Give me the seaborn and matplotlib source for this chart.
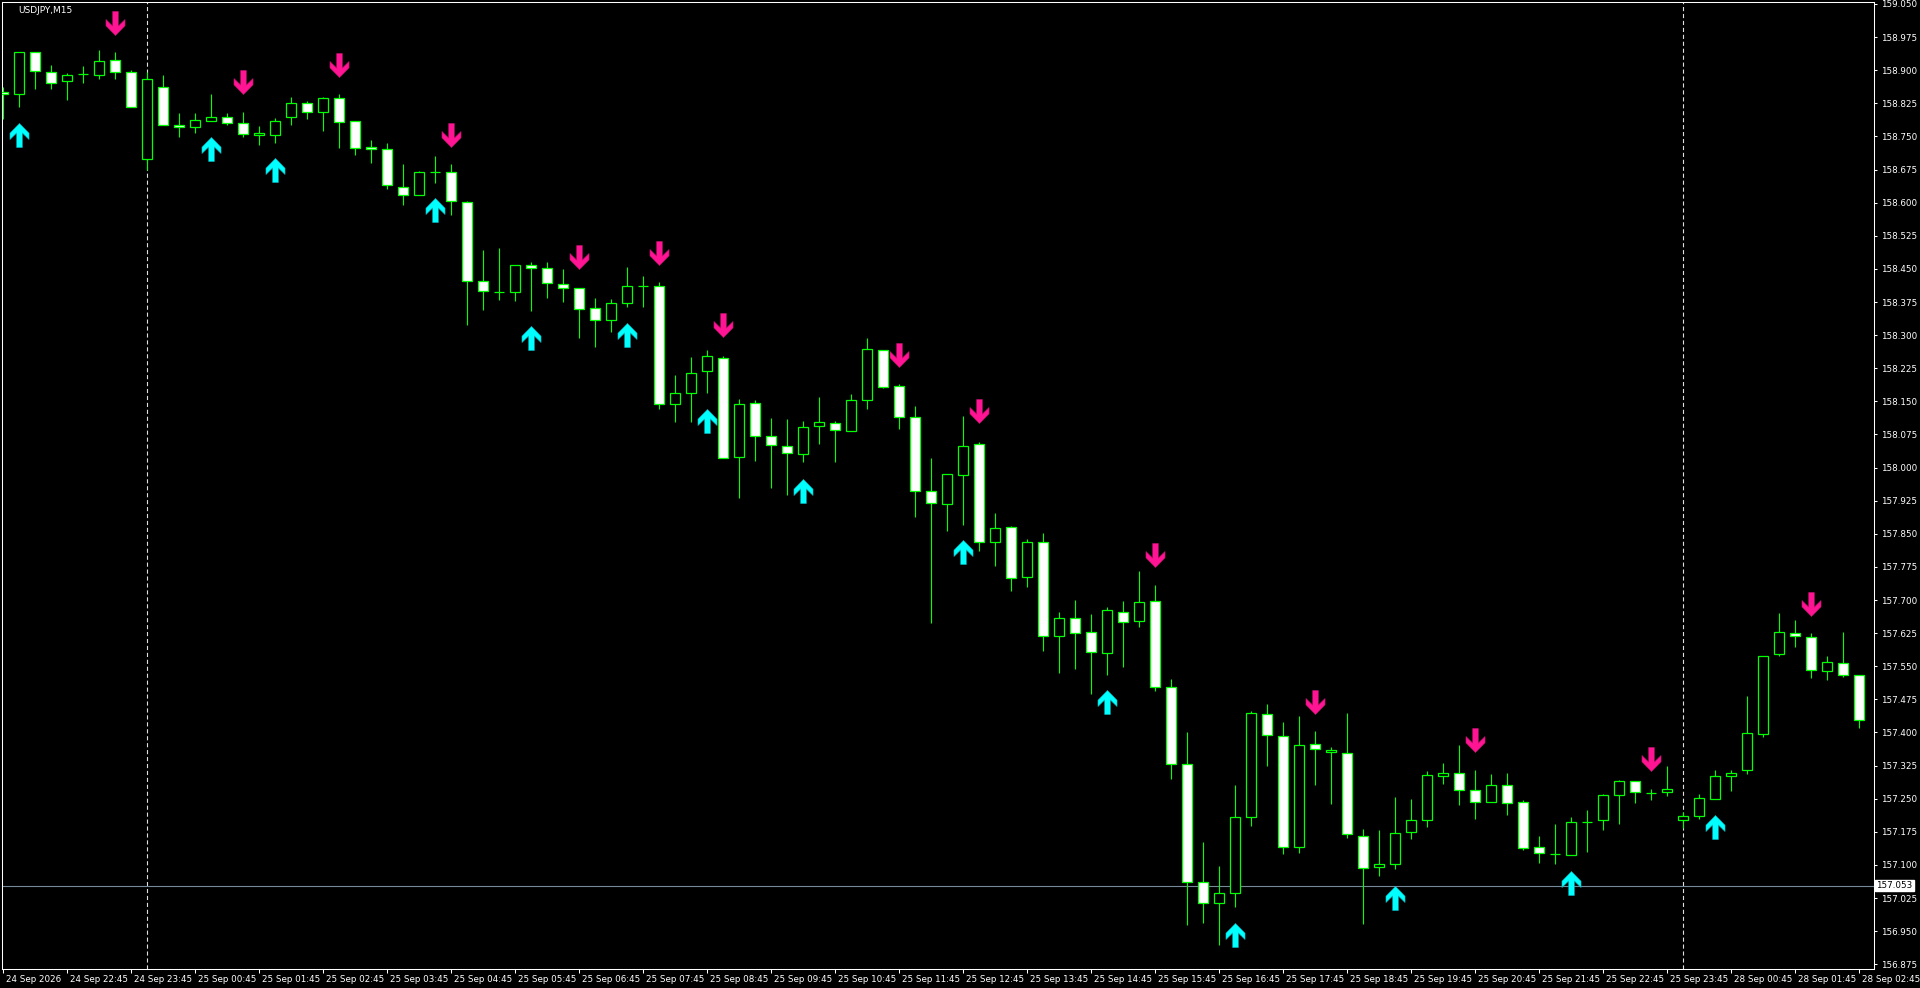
import numpy as np
import seaborn as sns
import matplotlib.pyplot as plt
from matplotlib.path import Path
from matplotlib.markers import MarkerStyle
from matplotlib.transforms import ScaledTranslation, blended_transform_factory

# USDJPY M15 candles (bar 0 = 24 Sep 21:45)
opens = [158.851, 158.846, 158.941, 158.895, 158.875, 158.891, 158.890, 158.922, 158.895, 158.698,
         158.861, 158.775, 158.771, 158.784, 158.793, 158.780, 158.753, 158.753, 158.793, 158.825,
         158.805, 158.836, 158.784, 158.725, 158.721, 158.636, 158.617, 158.669, 158.669, 158.601,
         158.422, 158.397, 158.397, 158.458, 158.451, 158.415, 158.406, 158.361, 158.334, 158.372,
         158.412, 158.412, 158.143, 158.168, 158.218, 158.248, 158.023, 158.146, 158.071, 158.048,
         158.030, 158.094, 158.100, 158.082, 158.152, 158.266, 158.184, 158.114, 157.946, 157.917,
         157.983, 158.053, 157.831, 157.865, 157.752, 157.831, 157.618, 157.659, 157.627, 157.579,
         157.672, 157.652, 157.697, 157.502, 157.329, 157.061, 157.013, 157.036, 157.208, 157.441,
         157.391, 157.140, 157.373, 157.355, 157.353, 157.165, 157.095, 157.101, 157.174, 157.201,
         157.301, 157.308, 157.269, 157.242, 157.280, 157.242, 157.140, 157.125, 157.122, 157.197,
         157.201, 157.258, 157.289, 157.264, 157.265, 157.201, 157.210, 157.249, 157.301, 157.314,
         157.396, 157.577, 157.625, 157.616, 157.539, 157.557, 157.530]
highs = [158.862, 158.941, 158.941, 158.911, 158.893, 158.910, 158.945, 158.941, 158.900, 158.895,
         158.889, 158.802, 158.802, 158.845, 158.802, 158.805, 158.773, 158.791, 158.839, 158.830,
         158.839, 158.846, 158.784, 158.742, 158.734, 158.688, 158.672, 158.706, 158.688, 158.603,
         158.493, 158.497, 158.458, 158.466, 158.466, 158.449, 158.406, 158.383, 158.381, 158.454,
         158.433, 158.420, 158.209, 158.250, 158.266, 158.252, 158.155, 158.152, 158.112, 158.109,
         158.105, 158.159, 158.105, 158.166, 158.293, 158.266, 158.189, 158.139, 158.021, 157.985,
         158.117, 158.057, 157.896, 157.867, 157.838, 157.851, 157.672, 157.699, 157.668, 157.684,
         157.697, 157.765, 157.734, 157.520, 157.400, 157.152, 157.098, 157.281, 157.449, 157.464,
         157.423, 157.437, 157.403, 157.366, 157.443, 157.181, 157.178, 157.253, 157.249, 157.312,
         157.332, 157.371, 157.314, 157.305, 157.308, 157.246, 157.165, 157.192, 157.208, 157.224,
         157.260, 157.292, 157.289, 157.271, 157.323, 157.219, 157.260, 157.314, 157.314, 157.482,
         157.573, 157.670, 157.654, 157.625, 157.573, 157.627, 157.530]
lows = [158.790, 158.817, 158.857, 158.858, 158.833, 158.870, 158.879, 158.881, 158.816, 158.674,
        158.775, 158.749, 158.757, 158.784, 158.777, 158.748, 158.730, 158.736, 158.777, 158.789,
        158.762, 158.723, 158.709, 158.689, 158.632, 158.595, 158.617, 158.645, 158.573, 158.324,
        158.357, 158.380, 158.378, 158.355, 158.383, 158.376, 158.294, 158.272, 158.308, 158.363,
        158.363, 158.132, 158.104, 158.104, 158.170, 158.021, 157.932, 158.016, 157.954, 157.939,
        158.012, 158.053, 158.012, 158.082, 158.132, 158.180, 158.088, 157.889, 157.649, 157.857,
        157.871, 157.810, 157.778, 157.720, 157.729, 157.584, 157.534, 157.543, 157.487, 157.530,
        157.548, 157.638, 157.495, 157.295, 156.965, 156.969, 156.919, 157.004, 157.189, 157.325,
        157.125, 157.128, 157.282, 157.237, 157.160, 156.967, 157.076, 157.090, 157.159, 157.187,
        157.283, 157.236, 157.203, 157.242, 157.212, 157.133, 157.104, 157.101, 157.122, 157.129,
        157.178, 157.192, 157.240, 157.246, 157.256, 157.183, 157.203, 157.249, 157.267, 157.305,
        157.389, 157.573, 157.593, 157.523, 157.518, 157.525, 157.410]
closes = [158.846, 158.941, 158.898, 158.870, 158.889, 158.891, 158.920, 158.895, 158.816, 158.879,
          158.775, 158.771, 158.787, 158.793, 158.780, 158.755, 158.757, 158.784, 158.825, 158.805,
          158.836, 158.782, 158.723, 158.721, 158.639, 158.617, 158.669, 158.669, 158.603, 158.422,
          158.399, 158.397, 158.458, 158.451, 158.417, 158.406, 158.359, 158.334, 158.372, 158.411,
          158.412, 158.143, 158.170, 158.214, 158.252, 158.021, 158.143, 158.071, 158.050, 158.032,
          158.091, 158.103, 158.084, 158.152, 158.268, 158.182, 158.114, 157.946, 157.919, 157.985,
          158.048, 157.831, 157.862, 157.749, 157.831, 157.618, 157.659, 157.625, 157.582, 157.677,
          157.650, 157.695, 157.502, 157.328, 157.061, 157.013, 157.036, 157.208, 157.443, 157.394,
          157.140, 157.371, 157.362, 157.360, 157.169, 157.092, 157.101, 157.172, 157.201, 157.303,
          157.308, 157.269, 157.242, 157.280, 157.240, 157.138, 157.126, 157.125, 157.197, 157.197,
          157.258, 157.289, 157.265, 157.264, 157.271, 157.210, 157.251, 157.301, 157.308, 157.398,
          157.573, 157.627, 157.618, 157.541, 157.559, 157.530, 157.428]

# indicator arrows: bar index and price of the arrow centre
buy_bars = [1, 13, 17, 27, 33, 39, 44, 50, 60, 69, 77, 87, 98, 107]
buy_price = [158.753, 158.722, 158.674, 158.584, 158.294, 158.301, 158.106, 157.948, 157.809,
             157.468, 156.942, 157.026, 157.058, 157.185]
sell_bars = [7, 15, 21, 28, 36, 41, 45, 56, 61, 72, 82, 92, 103, 113]
sell_price = [159.008, 158.874, 158.912, 158.754, 158.476, 158.487, 158.322, 158.256, 158.127,
              157.801, 157.470, 157.382, 157.339, 157.692]

time_labels = ["24 Sep 2026", "24 Sep 22:45", "24 Sep 23:45",
               "25 Sep 00:45", "25 Sep 01:45", "25 Sep 02:45", "25 Sep 03:45", "25 Sep 04:45",
               "25 Sep 05:45", "25 Sep 06:45", "25 Sep 07:45", "25 Sep 08:45", "25 Sep 09:45",
               "25 Sep 10:45", "25 Sep 11:45", "25 Sep 12:45", "25 Sep 13:45", "25 Sep 14:45",
               "25 Sep 15:45", "25 Sep 16:45", "25 Sep 17:45", "25 Sep 18:45", "25 Sep 19:45",
               "25 Sep 20:45", "25 Sep 21:45", "25 Sep 22:45", "25 Sep 23:45",
               "28 Sep 00:45", "28 Sep 01:45", "28 Sep 02:45"]
day_starts = [9, 105]
bid = 157.053
symbol = "USDJPY,M15"

sns.set_theme(style="dark", rc={"axes.facecolor": "black", "figure.facecolor": "black"})
plt.rcParams["font.family"] = ["DejaVu Sans"]
plt.rcParams["lines.scale_dashes"] = False

GREEN = "#00ff00"
fig = plt.figure(figsize=(19.2, 9.88), dpi=100)
ax = fig.add_axes([2.3 / 1920, 19 / 988, 1871.7 / 1920, 966.7 / 988])
ax.set_facecolor("black")

o = np.array(opens)
c = np.array(closes)
x = np.arange(len(o))

# wicks, then bodies on top (bull = black body, bear = white body)
ax.vlines(x, lows, highs, color=GREEN, lw=0.8, zorder=2)
fills = np.where(c < o, "white", "black")
ax.bar(x, np.abs(c - o), bottom=np.minimum(o, c), width=0.6, color=fills,
       edgecolor=GREEN, linewidth=0.9, zorder=3)

# thick chevron arrow marker
up = Path([(0, 12), (9.5, 2.3), (9.5, -4.0), (2.8, 2.6), (2.8, -12), (-2.8, -12),
           (-2.8, 2.6), (-9.5, -4.0), (-9.5, 2.3), (0, 12)], closed=True)
down = Path(up.vertices * np.array([1, -1]), closed=True)
sns.scatterplot(x=buy_bars, y=buy_price, marker=MarkerStyle(up), s=300, color="#00ffff",
                edgecolor="#00b8c0", linewidth=0.4, ax=ax, zorder=4)
sns.scatterplot(x=sell_bars, y=sell_price, marker=MarkerStyle(down), s=300, color="#ff1493",
                edgecolor="#c0106e", linewidth=0.4, ax=ax, zorder=4)

for d in day_starts:
    ax.axvline(d, color="#e0e0e0", lw=0.8, ls=(0, (3.0, 2.0)), zorder=1)
ax.axhline(bid, color="#778899", lw=0.8, zorder=1)

ax.set_xlim(-0.0625, 116.92)
ax.set_ylim(156.8643, 159.0538)

# price axis on the right
yt = np.round(156.875 + 0.075 * np.arange(30), 3)
ax.yaxis.tick_right()
ax.set_yticks(yt)
ax.set_yticklabels([f"{v:.3f}" for v in yt])
ax.tick_params(axis="y", colors="white", direction="out", length=2, width=0.75, pad=3,
               labelsize=6.3, left=False, right=True)

xt = [0] + list(range(4, len(o), 4))
ax.set_xticks(xt)
ax.set_xticklabels(time_labels)
ax.tick_params(axis="x", colors="white", direction="out", length=3, width=0.75, pad=1,
               labelsize=6.3, bottom=True)
shift = ScaledTranslation(3 / 100, 0, fig.dpi_scale_trans)
for lab in ax.get_xticklabels():
    lab.set_horizontalalignment("left")
    lab.set_transform(lab.get_transform() + shift)

ax.grid(False)
for sp in ax.spines.values():
    sp.set_color("white")
    sp.set_linewidth(0.75)
    sp.set_visible(True)

trans = blended_transform_factory(ax.transAxes, ax.transData)
ax.text(1.0012, bid, f"{bid:.3f}", transform=trans, ha="left", va="center", fontsize=6.3,
        color="black", bbox=dict(boxstyle="square,pad=0.15", fc="white", ec="white"), zorder=5)

fig.text(18 / 1920, 1 - 10.5 / 988, symbol, color="white", fontsize=6.5, ha="left", va="center")

fig.savefig("out.png", dpi=100, facecolor="black")
